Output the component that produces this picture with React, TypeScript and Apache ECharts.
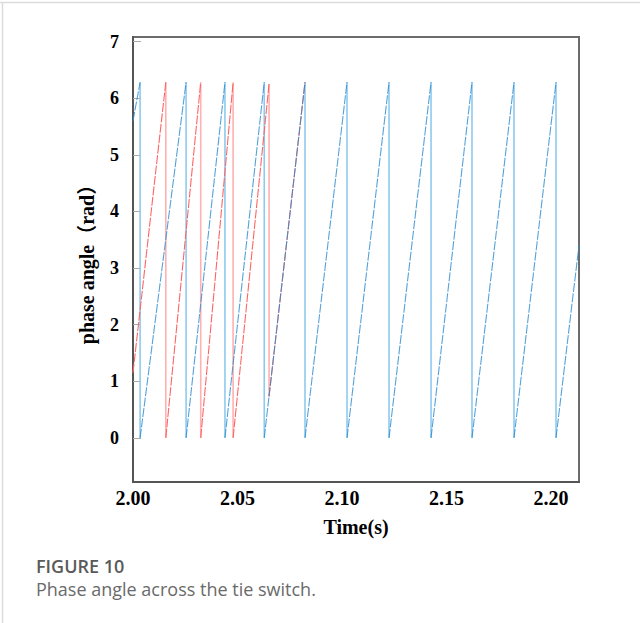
import { useEffect, useRef } from "react";
import * as echarts from "echarts";

// ---- data ----
const TWO_PI = 6.28;
const xTicks = [2.0, 2.05, 2.1, 2.15, 2.2];
const yTicks = [0, 1, 2, 3, 4, 5, 6, 7];

// blue (reference side) phase: value at start, reset instants, value at end
const blueStart = [2.0, 5.6];
const blueResetTimes = [2.0034, 2.0254, 2.044, 2.0628, 2.0823, 2.1024, 2.1225, 2.1426, 2.1622, 2.1823, 2.2024];
const blueEnd = [2.2134, 3.4];

// red (other side) phase before synchronisation
const redStart = [2.0, 1.15];
const redResetTimes = [2.0157, 2.0324, 2.0479];
const redSyncTime = 2.0651;
const redSyncPeak = 6.25;
const redSyncValue = 0.73;
const redSyncEnd = [2.0823, 6.28];

const X_MIN = 2.0;
const X_MAX = 2.2134;
const Y_MIN = -0.78;
const Y_MAX = 7.08;

type P = [number, number | null];

function blueRamps(): P[] {
  const out: P[] = [[blueStart[0], blueStart[1]], [blueResetTimes[0], TWO_PI]];
  for (let i = 0; i < blueResetTimes.length - 1; i++) {
    out.push([blueResetTimes[i], null]);
    out.push([blueResetTimes[i], 0]);
    out.push([blueResetTimes[i + 1], TWO_PI]);
  }
  const last = blueResetTimes[blueResetTimes.length - 1];
  out.push([last, null]);
  out.push([last, 0]);
  out.push([blueEnd[0], blueEnd[1]]);
  return out;
}

function blueDrops(): P[] {
  const out: P[] = [];
  blueResetTimes.forEach((t) => {
    out.push([t, TWO_PI]);
    out.push([t, 0]);
    out.push([t, null]);
  });
  return out;
}

function redRamps(): P[] {
  const out: P[] = [[redStart[0], redStart[1]], [redResetTimes[0], TWO_PI]];
  for (let i = 0; i < redResetTimes.length - 1; i++) {
    out.push([redResetTimes[i], null]);
    out.push([redResetTimes[i], 0]);
    out.push([redResetTimes[i + 1], TWO_PI]);
  }
  const last = redResetTimes[redResetTimes.length - 1];
  out.push([last, null]);
  out.push([last, 0]);
  out.push([redSyncTime, redSyncPeak]);
  out.push([redSyncTime, null]);
  out.push([redSyncTime, redSyncValue]);
  out.push([redSyncEnd[0], redSyncEnd[1]]);
  return out;
}

function redDrops(): P[] {
  const out: P[] = [];
  redResetTimes.forEach((t) => {
    out.push([t, TWO_PI]);
    out.push([t, 0]);
    out.push([t, null]);
  });
  out.push([redSyncTime, redSyncPeak]);
  out.push([redSyncTime, redSyncValue]);
  return out;
}

const SERIF = "'Liberation Serif', 'Times New Roman', 'Noto Sans CJK SC', serif";

export default function App() {
  const ref = useRef<HTMLDivElement>(null);

  useEffect(() => {
    if (!ref.current) return;
    const chart = echarts.init(ref.current, undefined, { renderer: "svg" });
    const lineBase = {
      type: "line" as const,
      showSymbol: false,
      symbol: "none",
      connectNulls: false,
      silent: true,
    };
    chart.setOption({
      animation: false,
      backgroundColor: "#ffffff",
      grid: {
        left: 133,
        top: 37,
        right: 61,
        bottom: 141,
        show: true,
        borderColor: "#6b6b6b",
        borderWidth: 2,
        containLabel: false,
      },
      xAxis: {
        type: "value",
        min: X_MIN,
        max: X_MAX,
        name: "Time(s)",
        nameLocation: "middle",
        nameGap: 35,
        nameTextStyle: { fontFamily: SERIF, fontWeight: "bold", fontSize: 20, color: "#000" },
        axisLine: { show: true, onZero: false, lineStyle: { color: "#555", width: 2 } },
        axisTick: { show: false },
        splitLine: { show: false },
        axisLabel: {
          customValues: xTicks,
          formatter: (v: number) => v.toFixed(2),
          fontFamily: SERIF,
          fontWeight: "bold",
          fontSize: 20,
          color: "#000",
          margin: 6,
        },
      },
      yAxis: {
        type: "value",
        min: Y_MIN,
        max: Y_MAX,
        name: "phase angle（rad）",
        nameLocation: "middle",
        nameGap: 36,
        nameTextStyle: { fontFamily: SERIF, fontWeight: "bold", fontSize: 20, color: "#000" },
        axisLine: { show: true, onZero: false, lineStyle: { color: "#555", width: 2 } },
        axisTick: {
          show: true,
          inside: true,
          length: 8,
          customValues: yTicks,
          lineStyle: { color: "#a8a8a8", width: 1 },
        },
        splitLine: { show: false },
        axisLabel: {
          customValues: yTicks,
          fontFamily: SERIF,
          fontWeight: "bold",
          fontSize: 18,
          color: "#000",
          margin: 14,
        },
      },
      series: [
        { ...lineBase, name: "red drops", data: redDrops(), lineStyle: { color: "#ffb0b0", width: 1.6 } },
        { ...lineBase, name: "blue drops", data: blueDrops(), lineStyle: { color: "#8ecaee", width: 1.6 } },
        { ...lineBase, name: "red ramps", data: redRamps(), lineStyle: { color: "#ff6464", width: 1.1, type: [9, 1.5] } },
        { ...lineBase, name: "blue ramps", data: blueRamps(), lineStyle: { color: "#2a8bcf", width: 1.1, type: [9, 1.5], opacity: 0.8 } },
      ],
      graphic: [
        { type: "line", shape: { x1: 0, y1: 2.5, x2: 640, y2: 2.5 }, style: { stroke: "#dcdcdc", lineWidth: 1.5 }, silent: true },
        { type: "line", shape: { x1: 2.5, y1: 2, x2: 2.5, y2: 623 }, style: { stroke: "#dcdcdc", lineWidth: 1.5 }, silent: true },
        {
          type: "text",
          left: 36,
          top: 557,
          style: { text: "FIGURE 10", font: "600 18px 'Open Sans', sans-serif", fill: "#5a5a5a" },
          silent: true,
        },
        {
          type: "text",
          left: 36,
          top: 580,
          style: { text: "Phase angle across the tie switch.", font: "400 18px 'Open Sans', sans-serif", fill: "#6a6a6a" },
          silent: true,
        },
      ],
    });
    return () => chart.dispose();
  }, []);

  return (
    <div
      ref={ref}
      style={{ position: "absolute", left: 0, top: 0, width: 640, height: 623, background: "#fff" }}
    />
  );
}
